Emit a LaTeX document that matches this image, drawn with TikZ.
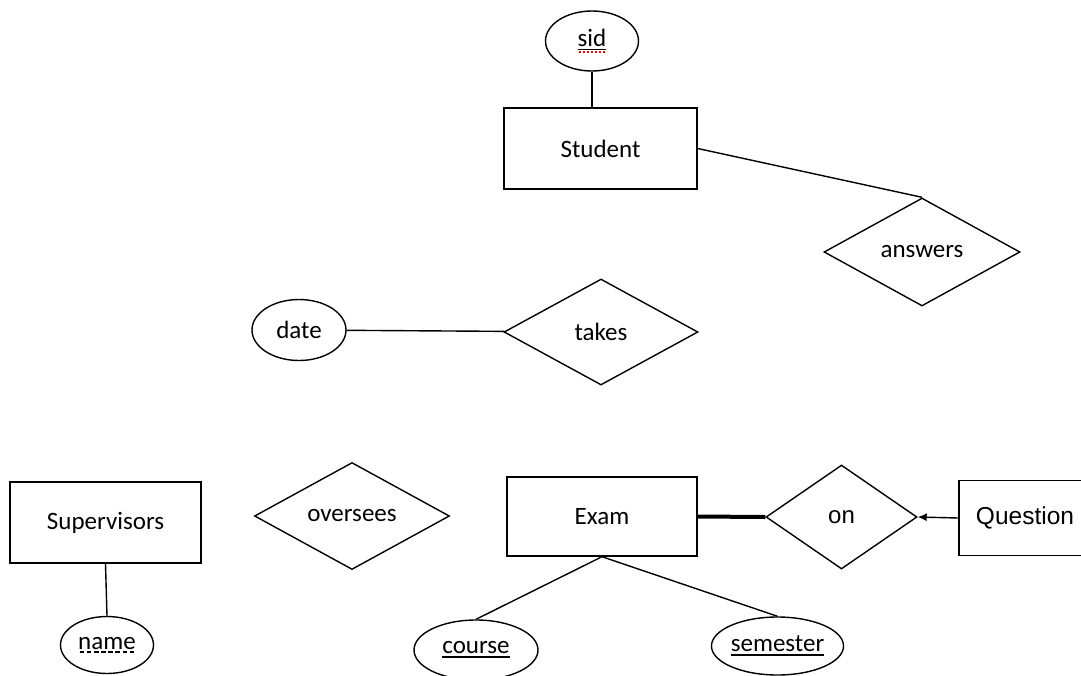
\documentclass[tikz,border=0pt]{standalone}
\usepackage{fontspec}
\setmainfont{Carlito}
\newfontfamily\helv{Liberation Sans}
\usetikzlibrary{shapes.geometric,arrows.meta}

\newsavebox\ulbox
% key attribute: solid underline
\newcommand{\keyattr}[1]{\vtop{\hbox{#1}\kern1.5pt\hrule height 2.5pt}}
% partial key: dashed underline
\newcommand{\partkey}[1]{\sbox\ulbox{#1}\vtop{\copy\ulbox\kern1.5pt\nointerlineskip
  \hbox to\wd\ulbox{\xleaders\hbox to 6.5pt{\hss\vrule width 4.5pt height 2pt\hss}\hfill}}}
% underline with the red spell-check dots below
\newcommand{\spellkey}[1]{\sbox\ulbox{#1}\vtop{\copy\ulbox\kern1.5pt\hrule height 1.6pt\kern0.8pt\nointerlineskip
  \hbox to\wd\ulbox{\color{red}\xleaders\hbox to 4pt{\hss\vrule width 2pt height 1.6pt\hss}\hfill}}}

\begin{document}
\begin{tikzpicture}[x=1pt, y=-1pt, line width=1.4pt,
  every node/.style = {draw, inner sep=0pt, font=\fontsize{25}{27}\selectfont},
  entity/.style = {rectangle},
  attrib/.style = {ellipse},
  relship/.style = {diamond}
  ]
  \clip (0,0) rectangle (1081,675);

  \node[entity, minimum width=193pt, minimum height=81pt] (student) at (600.5,148.5) {Student};
  \node[attrib, minimum width=93pt, minimum height=60pt] (sid) at (592,41) {\spellkey{sid}};
  \node[relship, minimum width=196pt, minimum height=108pt] (answers) at (922,252) {answers};

  \node[attrib, minimum width=94pt, minimum height=61pt] (date) at (299,330) {date};
  \node[relship, minimum width=194pt, minimum height=106pt] (takes) at (601,332) {takes};

  \node[entity, minimum width=191pt, minimum height=81pt] (supervisors) at (105.5,522.5) {Supervisors};
  \node[attrib, minimum width=93pt, minimum height=57pt] (name) at (107,645) {\partkey{name}};
  \node[relship, minimum width=195pt, minimum height=107pt] (oversees) at (352,516) {oversees};

  \node[entity, minimum width=190pt, minimum height=79pt] (exam) at (602,516.5) {Exam};
  \node[relship, minimum width=151pt, minimum height=104pt, font=\helv\fontsize{24}{26}\selectfont] (on) at (841.5,517) {on};
  \node[entity, minimum width=132pt, minimum height=75pt, font=\helv\fontsize{24.5}{26}\selectfont] (question) at (1025,518) {Question};

  \node[attrib, minimum width=124pt, minimum height=60pt] (course) at (476,650) {\keyattr{course}};
  \node[attrib, minimum width=125pt, minimum height=58pt] (semester) at (777.5,646) {\keyattr{semester}};

  \draw (sid) -- (sid |- student.north);
  \draw (student.east) -- (answers.north);
  \draw (date) -- (takes);
  \draw (supervisors.south) -- (name.north);
  \draw[line width=4pt] (exam.east) -- (on.west);
  \draw[-{Latex[length=9pt,width=8pt]}] (question.west) -- (on.east);
  \draw (exam.south) -- (course.north);
  \draw (exam.south) -- (semester.north);
\end{tikzpicture}
\end{document}
